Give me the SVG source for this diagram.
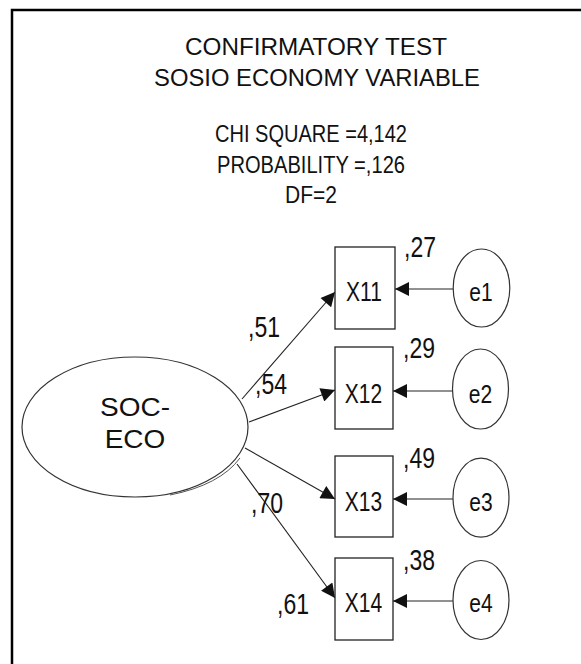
<svg xmlns="http://www.w3.org/2000/svg" width="581" height="664" viewBox="0 0 581 664">
<style>
text{font-family:"Liberation Sans",Arial,sans-serif;fill:#111}
.title{font-size:23px;text-anchor:middle}
.stat{font-size:24px;text-anchor:middle}
.lbl{font-size:23px}
.node{font-size:21px;text-anchor:middle}
.box{fill:#fff;stroke:#222;stroke-width:1.3}
.ell{fill:#fff;stroke:#333;stroke-width:1.2}
.conn line{stroke:#222;stroke-width:1.1}
</style>
<defs>
<marker id="ah" viewBox="0 0 10 10" refX="10" refY="5" markerWidth="16" markerHeight="14" markerUnits="userSpaceOnUse" orient="auto">
<path d="M0,0 L10,5 L0,10 z" fill="#111"/>
</marker>
</defs>
<rect width="581" height="664" fill="#fff"/>
<path d="M12,670 V10 H590" fill="none" stroke="#000" stroke-width="2.5"/>

<g id="title">
<text class="title" transform="translate(316,55) scale(1,1.08)" x="0" y="0" textLength="262" lengthAdjust="spacingAndGlyphs">CONFIRMATORY  TEST</text>
<text class="title" transform="translate(317,86) scale(1,1.08)" x="0" y="0" textLength="326" lengthAdjust="spacingAndGlyphs">SOSIO ECONOMY  VARIABLE</text>
<text class="stat" x="311" y="141.7" textLength="192" lengthAdjust="spacingAndGlyphs">CHI SQUARE =4,142</text>
<text class="stat" x="311" y="173.3" textLength="188" lengthAdjust="spacingAndGlyphs">PROBABILITY =,126</text>
<text class="stat" x="311" y="203.3" textLength="52" lengthAdjust="spacingAndGlyphs">DF=2</text>
</g>

<g class="conn" id="connectors">
<line x1="242" y1="399" x2="335" y2="292" marker-end="url(#ah)"/>
<line x1="249" y1="422" x2="335" y2="390" marker-end="url(#ah)"/>
<line x1="245" y1="448" x2="335" y2="499" marker-end="url(#ah)"/>
<line x1="237" y1="464" x2="335" y2="598" marker-end="url(#ah)"/>
<line x1="453" y1="289" x2="395" y2="289" marker-end="url(#ah)"/>
<line x1="453" y1="391" x2="393" y2="391" marker-end="url(#ah)"/>
<line x1="453" y1="499" x2="393" y2="499" marker-end="url(#ah)"/>
<line x1="453" y1="601" x2="393" y2="601" marker-end="url(#ah)"/>
</g>

<g id="soceco">
<ellipse class="ell" cx="135" cy="427" rx="113" ry="70"/>
<path d="M170,495 Q220,485 240,458" fill="none" stroke="#555" stroke-width="1"/>
<text x="135" y="416" style="font-size:25px;text-anchor:middle" transform="translate(135,416) scale(1.12,1) translate(-135,-416)">SOC-</text>
<text x="135" y="448" style="font-size:25px;text-anchor:middle" transform="translate(135,448) scale(1.12,1) translate(-135,-448)">ECO</text>
</g>

<g id="x11">
<rect class="box" x="335" y="247" width="60" height="82"/>
<text class="node" transform="translate(364,300.5) scale(1,1.35)">X11</text>
</g>
<g id="x12">
<rect class="box" x="335" y="347" width="58" height="82"/>
<text class="node" transform="translate(363.5,402.5) scale(1,1.35)">X12</text>
</g>
<g id="x13">
<rect class="box" x="335" y="456" width="58" height="81"/>
<text class="node" transform="translate(363.5,510.5) scale(1,1.35)">X13</text>
</g>
<g id="x14">
<rect class="box" x="335" y="558" width="58" height="82"/>
<text class="node" transform="translate(363.5,611.5) scale(1,1.35)">X14</text>
</g>

<g id="e1">
<ellipse class="ell" cx="481.5" cy="288" rx="28.3" ry="39"/>
<text class="node" transform="translate(481,301) scale(1,1.25)">e1</text>
</g>
<g id="e2">
<ellipse class="ell" cx="480.5" cy="389" rx="28" ry="40"/>
<text class="node" transform="translate(480.5,402.5) scale(1,1.25)">e2</text>
</g>
<g id="e3">
<ellipse class="ell" cx="481" cy="497.7" rx="28" ry="39.5"/>
<text class="node" transform="translate(481,510.5) scale(1,1.25)">e3</text>
</g>
<g id="e4">
<ellipse class="ell" cx="481" cy="600" rx="28" ry="39.5"/>
<text class="node" transform="translate(481,612.3) scale(1,1.25)">e4</text>
</g>

<g id="labels">
<text class="lbl" transform="translate(404,257) scale(1,1.3)">,27</text>
<text class="lbl" transform="translate(403,358) scale(1,1.3)">,29</text>
<text class="lbl" transform="translate(403,468) scale(1,1.3)">,49</text>
<text class="lbl" transform="translate(403,570) scale(1,1.3)">,38</text>
<text class="lbl" transform="translate(248,337) scale(1,1.3)">,51</text>
<text class="lbl" transform="translate(255,394) scale(1,1.3)">,54</text>
<text class="lbl" transform="translate(251,513) scale(1,1.3)">,70</text>
<text class="lbl" transform="translate(277,614) scale(1,1.3)">,61</text>
</g>
</svg>
